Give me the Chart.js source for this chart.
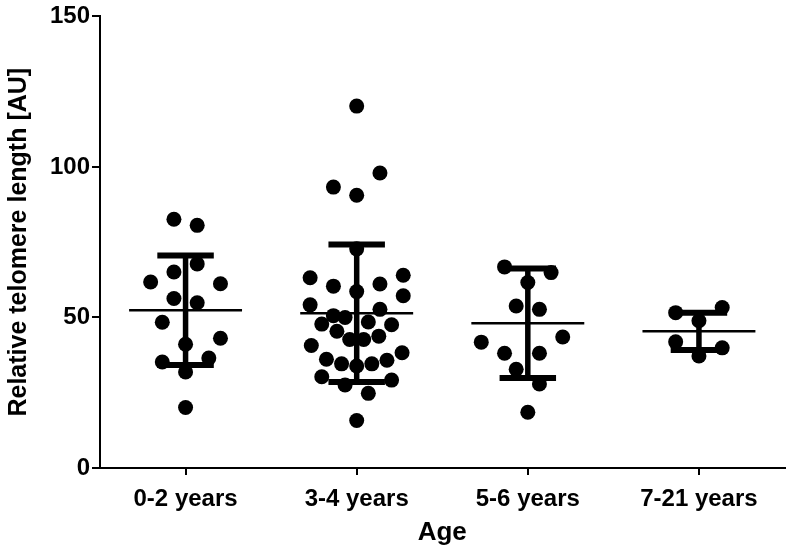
<!DOCTYPE html>
<html>
<head>
<meta charset="utf-8">
<script src="https://cdn.jsdelivr.net/npm/chart.js@4"></script>
<style>
  html, body { margin: 0; padding: 0; background: #fff; }
  #wrap { width: 792px; height: 546px; }
</style>
</head>
<body>
<div id="wrap"><canvas id="grafico" width="792" height="546"></canvas></div>
<script>
const categorias = ["0-2 years", "3-4 years", "5-6 years", "7-21 years"]

// valores
const grupo0 = [82.6, 80.6, 67.8, 65.1, 61.8, 61.2, 56.3, 54.9, 48.4, 43.1, 41.1, 35.2, 36.5, 31.9, 20.1]
const grupo1 = [120.2, 98.0, 93.3, 90.6, 72.8, 63.2, 64.0, 60.4, 61.1, 58.6, 57.2, 54.2, 52.7, 50.6, 50.0,
  47.8, 48.5, 47.6, 45.4, 42.7, 42.7, 43.8, 40.7, 36.1, 34.6, 33.9, 34.6, 35.8, 38.3, 30.3, 27.6, 29.2, 24.8, 15.8]
const grupo2 = [66.8, 64.9, 61.6, 53.8, 52.7, 41.8, 43.5, 38.1, 38.1, 32.8, 27.9, 18.5]
const grupo3 = [51.6, 53.3, 48.9, 41.9, 39.9, 37.2]

// posicao lateral de cada ponto (colunas do dot plot)
const col0 = [-1, 1, 1, -1, -3, 3, -1, 1, -2, 3, 0, -2, 2, 0, 0]
const col1 = [0, 2, -2, 0, 0, -4, 4, -2, 2, 0, 4, -4, 2, -2, -1,
  -3, 1, 3, -1.7, -0.6, 0.6, 1.9, -3.9, -2.6, -1.3, 0, 1.3, 2.6, 3.9, -3, -1, 3, 1, 0]
const col2 = [-2, 2, 0, -1, 1, -4, 3, -2, 1, -1, 1, 0]
const col3 = [-2, 2, 0, -2, 2, 0]

const medias = [52.4, 51.4, 48.1, 45.4]
const desvios = [18.2, 22.8, 18.2, 6.2]

const grupos = [grupo0, grupo1, grupo2, grupo3]
const colunas = [col0, col1, col2, col3]

const passo = 0.068
const pontos = []
grupos.forEach((g, i) => {
  g.forEach((v, j) => pontos.push({ x: i + colunas[i][j] * passo, y: v }))
})

const fonte = "'Liberation Sans', Arial, sans-serif"

const barrasErro = {
  id: "barrasErro",
  afterDatasetsDraw(chart) {
    const ctx = chart.ctx
    const xs = chart.scales.x
    const ys = chart.scales.y
    ctx.save()
    ctx.strokeStyle = "#000"
    medias.forEach((m, i) => {
      const cx = xs.getPixelForValue(i)
      const ym = ys.getPixelForValue(m)
      const yt = ys.getPixelForValue(m + desvios[i])
      const yb = ys.getPixelForValue(m - desvios[i])
      // linha da media
      ctx.lineWidth = 2.5
      ctx.beginPath()
      ctx.moveTo(xs.getPixelForValue(i - 0.33), ym)
      ctx.lineTo(xs.getPixelForValue(i + 0.33), ym)
      ctx.stroke()
      // barra vertical
      ctx.lineWidth = 5.5
      ctx.beginPath()
      ctx.moveTo(cx, yt)
      ctx.lineTo(cx, yb)
      ctx.stroke()
      // tampas
      ctx.lineWidth = 6
      ctx.beginPath()
      ctx.moveTo(xs.getPixelForValue(i - 0.165), yt)
      ctx.lineTo(xs.getPixelForValue(i + 0.165), yt)
      ctx.moveTo(xs.getPixelForValue(i - 0.165), yb)
      ctx.lineTo(xs.getPixelForValue(i + 0.165), yb)
      ctx.stroke()
    })
    ctx.restore()
  }
}

new Chart(document.getElementById("grafico"), {
  type: "scatter",
  data: {
    datasets: [{
      data: pontos,
      backgroundColor: "#000",
      borderWidth: 0,
      pointRadius: 7.5,
      pointHoverRadius: 7.5
    }]
  },
  options: {
    responsive: false,
    animation: false,
    layout: { padding: { top: 12, right: 2, left: 0, bottom: 0 } },
    plugins: { legend: { display: false }, tooltip: { enabled: false } },
    scales: {
      x: {
        type: "linear",
        min: -0.5,
        max: 3.5,
        afterBuildTicks: (s) => { s.ticks = categorias.map((c, i) => ({ value: i })) },
        afterFit: (s) => { s.height = 78 },
        border: { display: true, color: "#000", width: 2 },
        grid: { drawOnChartArea: false, drawTicks: true, tickLength: 7, color: "#000", lineWidth: 2 },
        ticks: {
          color: "#000",
          padding: 10,
          maxRotation: 0,
          font: { family: fonte, size: 24, weight: "bold" },
          callback: (v) => categorias[v]
        },
        title: {
          display: true,
          text: "Age",
          color: "#000",
          padding: { top: 0, bottom: 0 },
          font: { family: fonte, size: 26, weight: "bold", lineHeight: 1 }
        }
      },
      y: {
        min: 0,
        max: 150,
        afterFit: (s) => { s.width = 100 },
        border: { display: true, color: "#000", width: 2 },
        grid: { drawOnChartArea: false, drawTicks: true, tickLength: 8, color: "#000", lineWidth: 2 },
        ticks: {
          stepSize: 50,
          color: "#000",
          padding: 2,
          font: { family: fonte, size: 24, weight: "bold" }
        },
        title: {
          display: true,
          text: "Relative telomere length [AU]",
          color: "#000",
          padding: { top: 7, bottom: 0 },
          font: { family: fonte, size: 25, weight: "bold", lineHeight: 1 }
        }
      }
    }
  },
  plugins: [barrasErro]
})
</script>
</body>
</html>
